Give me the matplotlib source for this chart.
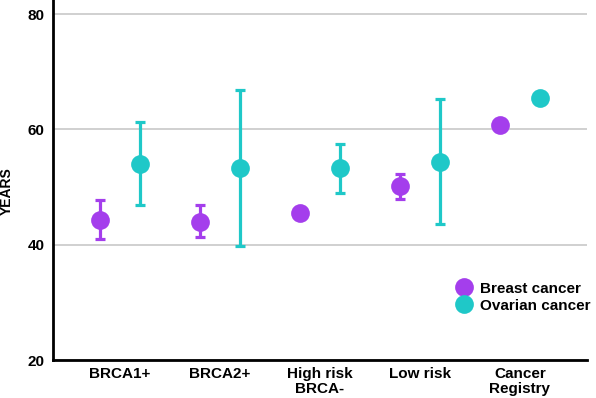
import matplotlib
matplotlib.use("Agg")
import matplotlib.pyplot as plt
import numpy as np

categories = ["BRCA1+", "BRCA2+", "High risk\nBRCA-", "Low risk", "Cancer\nRegistry"]
breast_mean = [44.2, 44.0, 45.5, 50.2, 60.7]
breast_low = [40.9, 41.3, 45.5, 48.0, 60.7]
breast_high = [47.7, 46.8, 45.5, 52.2, 60.7]
ovarian_mean = [54.0, 53.3, 53.3, 54.4, 65.4]
ovarian_low = [46.8, 39.8, 48.9, 43.6, 65.4]
ovarian_high = [61.3, 66.8, 57.5, 65.3, 65.4]
yticks = [20, 40, 60, 80]

purple = "#A43EEC"
cyan = "#1FC8C8"

plt.rcParams['font.family'] = ['Liberation Sans', 'DejaVu Sans']

fig = plt.figure(figsize=(5.96, 3.98), dpi=100)
ax = fig.add_axes([53/596, 1-360/398, 534/596, 360/398])
ax.set_ylim(20, 80 + 14/((360-14)/60))

x = np.arange(len(categories))
off = 0.2

def draw(xs, m, lo, hi, color, label):
    m = np.array(m); lo = np.array(lo); hi = np.array(hi)
    yerr = np.vstack([m - lo, hi - m])
    has = (yerr.sum(axis=0) > 0)
    ax.errorbar(xs[has], m[has], yerr=yerr[:, has], fmt='none', ecolor=color,
                elinewidth=2.3, capsize=3.8, capthick=2.3, zorder=3)
    ax.plot(xs, m, 'o', color=color, markersize=13.5, markeredgewidth=0,
            zorder=4, label=label, linestyle='none')

draw(x - off, breast_mean, breast_low, breast_high, purple, "Breast cancer")
draw(x + off, ovarian_mean, ovarian_low, ovarian_high, cyan, "Ovarian cancer")

ax.set_xlim(-0.67, 4.67)
ax.set_xticks(x)
ax.set_xticklabels(categories, fontsize=11, fontweight='bold', linespacing=1.1)
ax.set_yticks(yticks)
ax.set_yticklabels([str(v) for v in yticks], fontsize=11, fontweight='bold')
ax.tick_params(length=0, pad=5)
ax.tick_params(axis='y', pad=6)
ax.yaxis.grid(True, color='#C8C8C8', linewidth=1.2)
ax.set_axisbelow(True)
for s in ['top', 'right']:
    ax.spines[s].set_visible(False)
for s in ['left', 'bottom']:
    ax.spines[s].set_linewidth(2)
    ax.spines[s].set_color('black')
ax.set_ylabel("YEARS", fontsize=10, fontweight='bold')
ax.yaxis.set_label_coords(-0.073, 0.47)

leg = ax.legend(loc='upper left', bbox_to_anchor=(0.741, 0.235), frameon=False,
                fontsize=11, handletextpad=0.45, labelspacing=0.2,
                handlelength=1.2, borderaxespad=0)
for t in leg.get_texts():
    t.set_fontweight('bold')

fig.savefig("out.png", dpi=100)
